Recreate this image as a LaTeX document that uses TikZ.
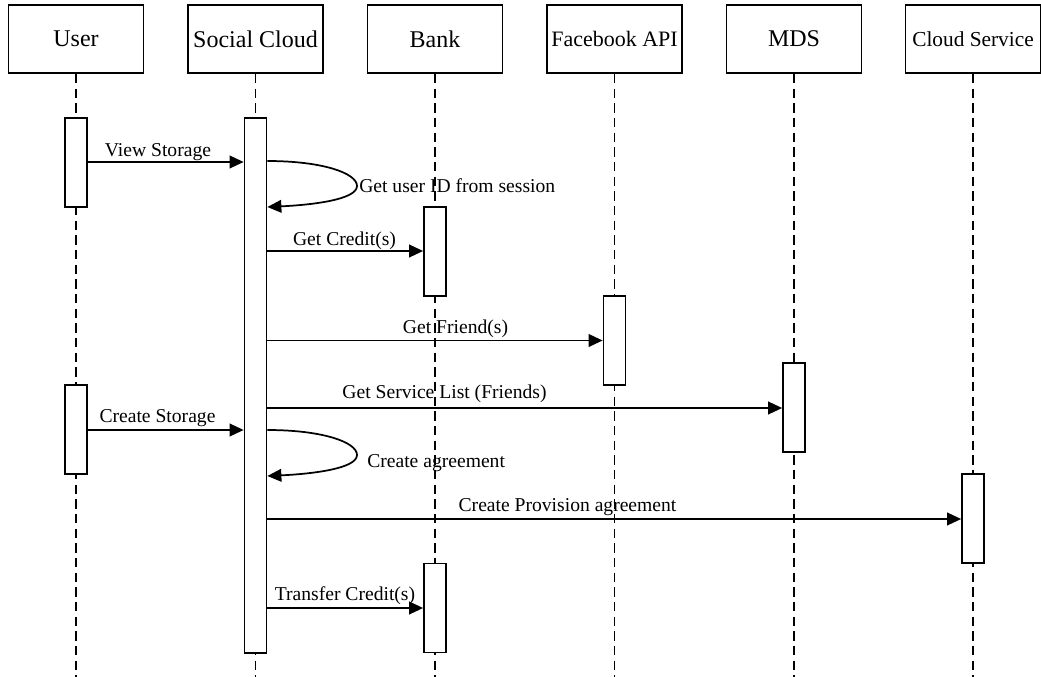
\documentclass[tikz,border=0pt]{standalone}
\usepackage{fontspec}
\setmainfont{Liberation Serif}
\usetikzlibrary{arrows.meta}
\begin{document}
\begin{tikzpicture}[x=0.75pt,y=-0.75pt,
  head/.style={draw,line width=1.3pt,minimum width=101.25pt,minimum height=51pt,inner sep=0pt,font=\fontsize{18}{21}\selectfont},
  actbar/.style={draw,fill=white,line width=1.3pt,minimum width=16.5pt,minimum height=66.75pt,inner sep=0pt},
  life/.style={line width=1.2pt,dash pattern=on 7pt off 4pt},
  msg/.style={line width=1.3pt,-{Triangle[length=10.5pt,width=9.5pt]}},
  lbl/.style={inner sep=0pt,font=\fontsize{14.7}{17}\selectfont}]
\useasboundingbox (0,0) rectangle (1041,677);
% headers
\node[head] (h1) at (76,39) {User};
\node[head] (h2) at (255.5,39) {Social Cloud};
\node[head] (h3) at (435,39) {Bank};
\node[head,font=\fontsize{16.5}{19}\selectfont] (h4) at (614.5,39) {Facebook API};
\node[head] (h5) at (794,39) {MDS};
\node[head,font=\fontsize{16}{19}\selectfont] (h6) at (973,39) {Cloud Service};
% lifelines
\foreach \h in {h1,h2,h3,h4,h5,h6}
  \draw[life] (\h.south) -- (\h.south |- 0,677);
% activation bars
\node[actbar] (uA) at (76,162.5) {};
\node[actbar,minimum height=401.25pt] (sc) at (255.5,385.5) {};
\node[actbar] (bA) at (435,251.5) {};
\node[actbar] (fb) at (614.5,340.5) {};
\node[actbar] (md) at (794,407.5) {};
\node[actbar] (uB) at (76,429.5) {};
\node[actbar] (cs) at (973,518.5) {};
\node[actbar] (bB) at (435,608) {};
% messages
\draw[msg] (uA.east |- 0,162) -- (sc.west |- 0,162);
\node[lbl,anchor=base] (l1) at (158,157) {View Storage};
\draw[msg] (sc.east |- 0,161) .. controls (322,161) and (357,173) .. (357,186)
  .. controls (357,200) and (310,205) .. (sc.east |- 0,207);
\node[lbl,anchor=base west] (l2) at (359,193) {Get user ID from session};
\draw[msg] (sc.east |- 0,251) -- (bA.west |- 0,251);
\node[lbl,anchor=base] (l3) at (344.5,245) {Get Credit(s)};
\draw[msg] (sc.east |- 0,340.5) -- (fb.west |- 0,340.5);
\node[lbl,anchor=base] (l4) at (455.5,333) {Get Friend(s)};
\draw[msg] (sc.east |- 0,408) -- (md.west |- 0,408);
\node[lbl,anchor=base] (l5) at (444.5,398) {Get Service List (Friends)};
\draw[msg] (uB.east |- 0,430) -- (sc.west |- 0,430);
\node[lbl,anchor=base] (l6) at (157.5,422) {Create Storage};
\draw[msg] (sc.east |- 0,430) .. controls (322,430) and (357,442) .. (357,455)
  .. controls (357,469) and (310,474) .. (sc.east |- 0,476);
\node[lbl,anchor=base west] (l7) at (367,467) {Create agreement};
\draw[msg] (sc.east |- 0,519) -- (cs.west |- 0,519);
\node[lbl,anchor=base] (l8) at (567.5,511) {Create Provision agreement};
\draw[msg] (sc.east |- 0,608) -- (bB.west |- 0,608);
\node[lbl,anchor=base] (l9) at (345,600) {Transfer Credit(s)};
\end{tikzpicture}
\end{document}
